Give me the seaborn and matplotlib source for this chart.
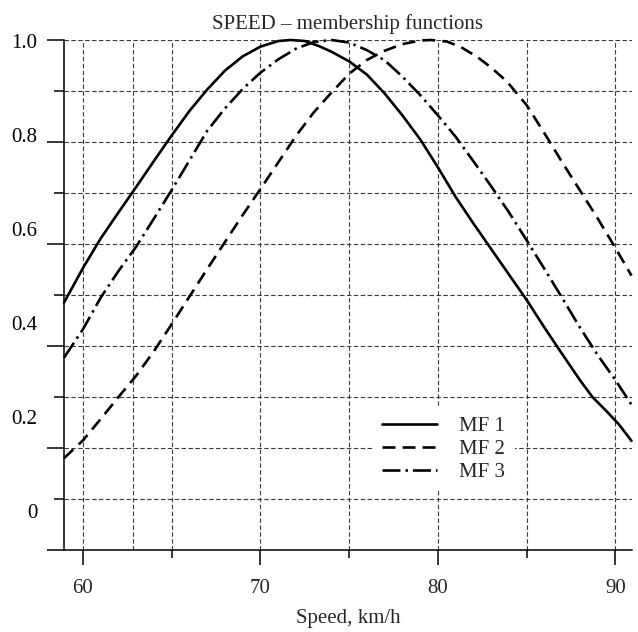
import numpy as np
import pandas as pd
import matplotlib.pyplot as plt
import matplotlib.transforms as mtransforms
import seaborn as sns

# values
mf1_speed = [58.93, 60, 61, 62, 63, 64, 65, 66, 67, 68, 69, 70, 71, 71.7, 72.5,
             73.3, 74, 75, 76, 77, 78, 79, 80, 81, 82, 83, 84, 85, 86, 87, 88,
             88.7, 89.5, 90.2, 90.9]
mf1_value = [0.485, 0.553, 0.611, 0.662, 0.712, 0.763, 0.813, 0.861, 0.903, 0.94,
             0.968, 0.987, 0.998, 1.0, 0.998, 0.988, 0.977, 0.958, 0.932, 0.895,
             0.852, 0.805, 0.75, 0.692, 0.64, 0.59, 0.54, 0.49, 0.436, 0.384,
             0.333, 0.30, 0.272, 0.246, 0.214]

mf2_speed = [58.93, 60, 61, 62, 63, 64, 65, 66, 67, 68, 69, 70, 71, 72, 73, 74,
             75, 76, 77, 78, 79, 79.6, 80.5, 81.3, 82.2, 83, 83.9, 85, 86, 87,
             88, 89, 90, 90.9]
mf2_value = [0.18, 0.215, 0.257, 0.30, 0.342, 0.39, 0.443, 0.497, 0.551, 0.604,
             0.657, 0.708, 0.76, 0.812, 0.858, 0.897, 0.934, 0.961, 0.979, 0.992,
             0.999, 1.0, 0.997, 0.986, 0.967, 0.946, 0.918, 0.872, 0.817, 0.76,
             0.705, 0.65, 0.592, 0.538]

mf3_speed = [58.93, 60, 61, 62, 63, 64, 65, 66, 67, 68, 69, 70, 71, 72, 73, 74,
             75, 76, 77, 78, 79, 80, 81, 82, 83, 84, 85, 86, 87, 88, 89, 90, 90.9]
mf3_value = [0.377, 0.433, 0.495, 0.547, 0.595, 0.65, 0.706, 0.764, 0.822, 0.866,
             0.904, 0.936, 0.962, 0.983, 0.996, 1.0, 0.995, 0.98, 0.96, 0.928,
             0.892, 0.852, 0.81, 0.762, 0.713, 0.662, 0.607, 0.551, 0.494, 0.436,
             0.382, 0.333, 0.285]

series_names = ["MF 1", "MF 2", "MF 3"]
ytick_labels = ["1.0", "0.8", "0.6", "0.4", "0.2", "0"]
xtick_major = [60, 70, 80, 90]
xtick_minor = [65, 75, 85]
extra_xgrid = 62.8


def main():
    df = pd.concat([
        pd.DataFrame({"speed": mf1_speed, "mu": mf1_value, "mf": series_names[0]}),
        pd.DataFrame({"speed": mf2_speed, "mu": mf2_value, "mf": series_names[1]}),
        pd.DataFrame({"speed": mf3_speed, "mu": mf3_value, "mf": series_names[2]}),
    ], ignore_index=True)

    sns.set_theme(style="ticks")
    plt.rcParams["font.family"] = ["Liberation Serif", "DejaVu Serif"]

    fig = plt.figure(figsize=(6.38, 6.32), dpi=100)
    ax = fig.add_axes([64 / 638, 82 / 632, 568 / 638, 510 / 632])

    lw = 1.9
    styles = {
        "MF 1": "",
        "MF 2": (4.9, 2.7),
        "MF 3": (6.8, 1.9, 0.95, 1.9),
    }
    sns.lineplot(data=df, x="speed", y="mu", hue="mf", style="mf",
                 palette=["black"] * 3, dashes=styles, linewidth=lw,
                 sort=False, estimator=None, ax=ax, zorder=3)
    for line in ax.get_lines():
        line.set_clip_on(False)
        line.set_solid_joinstyle("round")
        line.set_dash_joinstyle("round")
        line.set_dash_capstyle("butt")

    ax.set_xlim(58.93, 90.93)
    ax.set_ylim(0, 1.0)

    # ticks
    ax.set_xticks(xtick_major)
    ax.set_xticks(xtick_minor, minor=True)
    ax.set_yticks(np.arange(0, 1.01, 0.2))
    ax.set_yticks(np.arange(0.1, 1.0, 0.2), minor=True)
    ax.set_yticklabels([])
    ax.tick_params(axis="x", which="major", length=11, width=1.1, pad=10,
                   labelsize=15, color="black")
    ax.tick_params(axis="x", which="minor", length=6, width=1.1, color="black")
    ax.tick_params(axis="y", which="major", length=12.5, width=1.1, color="black")
    ax.tick_params(axis="y", which="minor", length=7, width=1.1, color="black")

    # the y labels sit at their own spacing in the reference
    label_pos = np.linspace(0.994, 0.072, len(ytick_labels))
    trans = mtransforms.blended_transform_factory(ax.transAxes, ax.transData)
    for lab, yy in zip(ytick_labels, label_pos):
        ax.text(-0.047, yy, lab, transform=trans, ha="right", va="center",
                fontsize=15, color="black")

    # dashed grid
    grid_kw = dict(color="#3a3a3a", linewidth=0.8, linestyle=(0, (4, 2.2)))
    ax.grid(True, which="both", **grid_kw)
    ax.axvline(extra_xgrid, zorder=1, **grid_kw)

    for side in ["top", "right"]:
        ax.spines[side].set_visible(False)
    for side in ["left", "bottom"]:
        ax.spines[side].set_color("black")
        ax.spines[side].set_linewidth(1.1)

    ax.set_title("SPEED \u2013 membership functions", fontsize=15, pad=8)
    ax.set_xlabel("Speed, km/h", fontsize=15, labelpad=8)
    ax.set_ylabel("")

    handles, labels = ax.get_legend_handles_labels()
    leg = ax.legend(handles, labels, loc="upper left",
                    bbox_to_anchor=((373 - 64) / 568, (550 - 407) / 510),
                    borderaxespad=0, borderpad=0.45, frameon=True,
                    facecolor="white", edgecolor="none", framealpha=1,
                    fontsize=15, handlelength=2.6, handletextpad=1.1,
                    labelspacing=0.16, fancybox=False)
    leg.get_frame().set_linewidth(0)
    for h in leg.get_lines():
        h.set_linewidth(lw)

    fig.savefig("out.png", dpi=100, facecolor="white")
    plt.close(fig)


if __name__ == "__main__":
    main()
